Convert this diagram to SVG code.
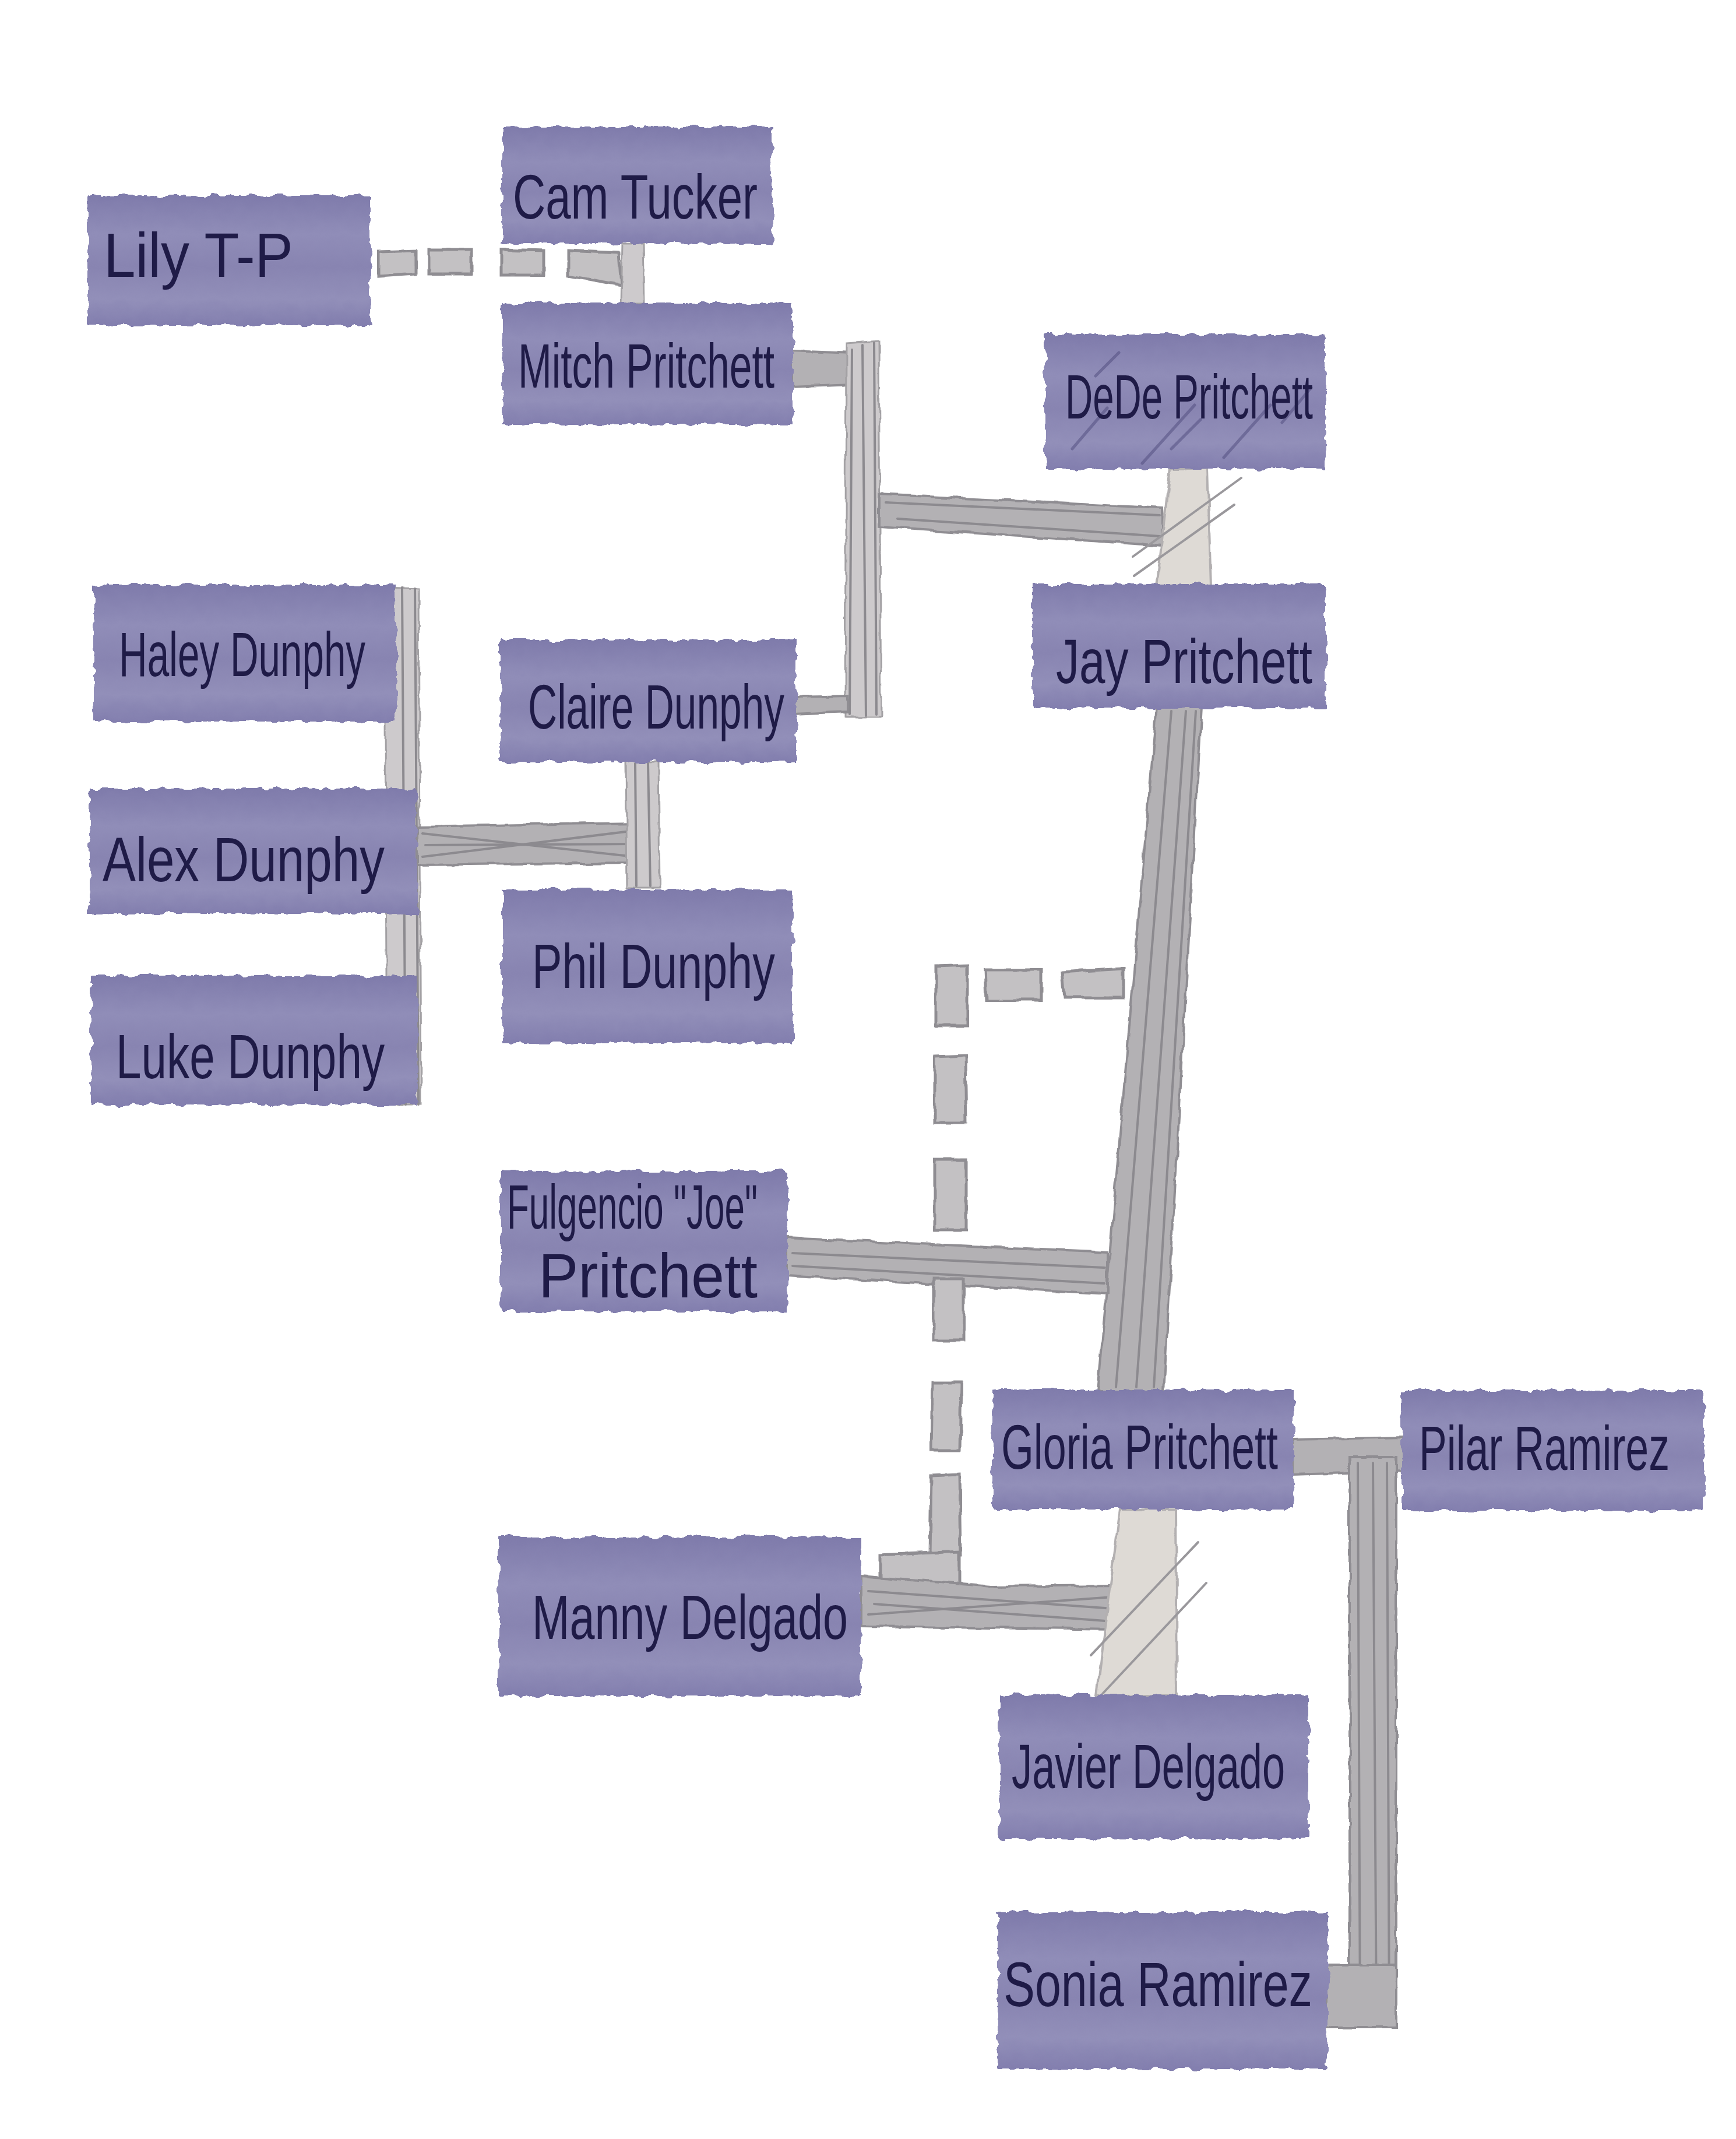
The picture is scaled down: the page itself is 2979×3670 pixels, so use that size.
<svg xmlns="http://www.w3.org/2000/svg" width="2979" height="3670" viewBox="0 0 2979 3670">
<defs>
<filter id="wc" x="-5%" y="-5%" width="110%" height="110%">
<feTurbulence type="fractalNoise" baseFrequency="0.045" numOctaves="3" seed="4" result="n"/>
<feDisplacementMap in="SourceGraphic" in2="n" scale="14" xChannelSelector="R" yChannelSelector="G"/>
</filter>
<filter id="pen" x="-5%" y="-5%" width="110%" height="110%">
<feTurbulence type="fractalNoise" baseFrequency="0.03" numOctaves="2" seed="9" result="n"/>
<feDisplacementMap in="SourceGraphic" in2="n" scale="8" xChannelSelector="R" yChannelSelector="G"/>
</filter>
<linearGradient id="boxfill" x1="0" y1="0" x2="0" y2="1">
<stop offset="0" stop-color="#7f7bab"/>
<stop offset="0.3" stop-color="#908db8"/>
<stop offset="0.55" stop-color="#8884b1"/>
<stop offset="0.8" stop-color="#928fb9"/>
<stop offset="1" stop-color="#827eae"/>
</linearGradient>
</defs>
<style>
.box{fill:url(#boxfill);filter:url(#wc);}
.lbl{font-family:"Liberation Sans Narrow","Liberation Sans",sans-serif;font-size:108px;fill:#1f1b47;}
.band{fill:#b3b1b4;stroke:#8f8d92;stroke-width:4;filter:url(#pen);}
.pale{fill:#dedad5;stroke:#b3b0b1;stroke-width:4;filter:url(#pen);}
.light{fill:#cdcacc;stroke:#a3a1a4;stroke-width:3;filter:url(#pen);}
.dash{fill:#c3c1c3;stroke:#8f8d92;stroke-width:5;filter:url(#pen);}
.streak{fill:none;stroke:#8c8a8f;stroke-width:4;stroke-linecap:round;}
.hatch{fill:none;stroke:#9a989c;stroke-width:4;stroke-linecap:round;}
.dhatch{fill:none;stroke:#4e4a7c;stroke-width:5;stroke-opacity:0.5;stroke-linecap:round;}
</style>
<rect width="2979" height="3670" fill="#ffffff"/>

<g id="connectors">
<polygon class="dash" points="651,432 713,430 713,470 651,474"/>
<polygon class="dash" points="736,428 809,428 809,470 736,470"/>
<polygon class="dash" points="860,428 933,430 933,472 860,472"/>
<polygon class="dash" points="975,430 1062,434 1066,490 975,474"/>
<polygon class="light" points="1068,416 1104,416 1106,522 1066,522"/>
<polygon class="band" points="1358,602 1462,606 1462,660 1358,664"/>
<polygon class="light" points="1452,590 1508,586 1512,1230 1450,1230"/>
<path class="streak" d="M1462,600 L1458,1225 M1480,592 L1486,1228 M1500,588 L1504,1226"/>
<polygon class="band" points="1364,1196 1454,1194 1454,1222 1364,1226"/>
<polygon class="band" points="1508,848 1995,872 1995,936 1508,904"/>
<path class="streak" d="M1520,862 L1990,884 M1540,890 L1990,920"/>
<polygon class="pale" points="2008,803 2072,803 2078,1006 1985,1006"/>
<path class="hatch" d="M2130,820 L1944,955 M2118,866 L1946,988"/>
<polygon class="band" points="1985,1212 2062,1212 1997,2388 1884,2388"/>
<path class="streak" d="M2010,1220 L1915,2380 M2035,1220 L1950,2380 M2052,1220 L1980,2380"/>
<polygon class="band" points="1350,2124 1900,2148 1900,2220 1350,2188"/>
<path class="streak" d="M1360,2150 L1895,2175 M1360,2172 L1895,2202"/>
<polygon class="dash" points="1822,1668 1928,1662 1928,1712 1826,1712"/>
<polygon class="dash" points="1690,1664 1787,1664 1787,1716 1692,1716"/>
<polygon class="dash" points="1606,1658 1660,1656 1660,1760 1606,1760"/>
<polygon class="dash" points="1604,1814 1656,1812 1658,1926 1604,1926"/>
<polygon class="dash" points="1604,1990 1658,1990 1658,2110 1604,2110"/>
<polygon class="dash" points="1602,2194 1654,2194 1654,2300 1602,2300"/>
<polygon class="dash" points="1600,2372 1650,2372 1648,2488 1598,2488"/>
<polygon class="dash" points="1598,2532 1646,2530 1648,2668 1596,2668"/>
<polygon class="dash" points="1510,2668 1646,2662 1646,2718 1510,2722"/>
<polygon class="band" points="1478,2704 1700,2722 1915,2720 1915,2796 1478,2790"/>
<path class="streak" d="M1490,2730 L1910,2760 M1490,2770 L1910,2740 M1500,2752 L1910,2782"/>
<polygon class="pale" points="1922,2590 2018,2590 2020,2910 1882,2910"/>
<path class="hatch" d="M2056,2646 L1872,2840 M2070,2716 L1892,2906"/>
<polygon class="band" points="2218,2470 2408,2466 2408,2524 2218,2530"/>
<polygon class="band" points="2316,2500 2396,2500 2396,3478 2316,3478"/>
<path class="streak" d="M2330,2510 L2334,3470 M2356,2510 L2362,3470 M2380,2510 L2384,3470"/>
<polygon class="band" points="2276,3372 2396,3372 2396,3478 2276,3478"/>
<polygon class="light" points="660,1008 718,1010 722,1895 664,1895"/>
<path class="streak" d="M690,1008 L696,1895 M712,1010 L718,1895"/>
<polygon class="band" points="716,1418 1092,1412 1092,1480 716,1484"/>
<path class="streak" d="M725,1430 L1090,1470 M725,1470 L1090,1425 M730,1450 L1088,1448"/>
<polygon class="light" points="1074,1306 1130,1306 1132,1524 1076,1524"/>
<path class="streak" d="M1090,1310 L1092,1520 M1112,1310 L1116,1520"/>
</g>

<g id="n-cam"><rect class="box" x="862" y="218" width="463" height="200"/><text class="lbl" x="880" y="375" textLength="420" lengthAdjust="spacingAndGlyphs">Cam Tucker</text></g>
<g id="n-lily"><rect class="box" x="150" y="335" width="486" height="223"/><text class="lbl" x="178" y="475" textLength="325" lengthAdjust="spacingAndGlyphs">Lily T-P</text></g>
<g id="n-mitch"><rect class="box" x="862" y="520" width="498" height="208"/><text class="lbl" x="889" y="665" textLength="440" lengthAdjust="spacingAndGlyphs">Mitch Pritchett</text></g>
<g id="n-dede"><rect class="box" x="1793" y="574" width="481" height="231"/><path class="dhatch" d="M1840,770 L1900,700 M1960,795 L2050,695 M2100,785 L2180,695 M2200,725 L2250,665 M1880,645 L1920,605 M2010,770 L2060,720"/><text class="lbl" x="1828" y="718" textLength="425" lengthAdjust="spacingAndGlyphs">DeDe Pritchett</text></g>
<g id="n-jay"><rect class="box" x="1772" y="1002" width="504" height="213"/><text class="lbl" x="1812" y="1172" textLength="440" lengthAdjust="spacingAndGlyphs">Jay Pritchett</text></g>
<g id="n-haley"><rect class="box" x="160" y="1003" width="520" height="235"/><text class="lbl" x="204" y="1160" font-size="92" textLength="423" lengthAdjust="spacingAndGlyphs">Haley Dunphy</text></g>
<g id="n-claire"><rect class="box" x="859" y="1098" width="507" height="210"/><text class="lbl" x="906" y="1250" textLength="440" lengthAdjust="spacingAndGlyphs">Claire Dunphy</text></g>
<g id="n-alex"><rect class="box" x="154" y="1353" width="561" height="215"/><text class="lbl" x="176" y="1512" textLength="484" lengthAdjust="spacingAndGlyphs">Alex Dunphy</text></g>
<g id="n-phil"><rect class="box" x="862" y="1526" width="498" height="264"/><text class="lbl" x="913" y="1695" textLength="417" lengthAdjust="spacingAndGlyphs">Phil Dunphy</text></g>
<g id="n-luke"><rect class="box" x="156" y="1674" width="560" height="221"/><text class="lbl" x="199" y="1850" textLength="461" lengthAdjust="spacingAndGlyphs">Luke Dunphy</text></g>
<g id="n-joe"><rect class="box" x="858" y="2009" width="494" height="241"/><text class="lbl" x="870" y="2108" font-size="88" textLength="430" lengthAdjust="spacingAndGlyphs">Fulgencio "Joe"</text><text class="lbl" x="924" y="2226" textLength="376" lengthAdjust="spacingAndGlyphs">Pritchett</text></g>
<g id="n-gloria"><rect class="box" x="1703" y="2385" width="517" height="205"/><text class="lbl" x="1718" y="2520" textLength="475" lengthAdjust="spacingAndGlyphs">Gloria Pritchett</text></g>
<g id="n-pilar"><rect class="box" x="2405" y="2385" width="520" height="207"/><text class="lbl" x="2435" y="2522" font-size="90" textLength="430" lengthAdjust="spacingAndGlyphs">Pilar Ramirez</text></g>
<g id="n-manny"><rect class="box" x="856" y="2637" width="622" height="273"/><text class="lbl" x="913" y="2812" textLength="542" lengthAdjust="spacingAndGlyphs">Manny Delgado</text></g>
<g id="n-javier"><rect class="box" x="1714" y="2908" width="531" height="247"/><text class="lbl" x="1736" y="3068" textLength="469" lengthAdjust="spacingAndGlyphs">Javier Delgado</text></g>
<g id="n-sonia"><rect class="box" x="1712" y="3280" width="566" height="270"/><text class="lbl" x="1722" y="3442" textLength="530" lengthAdjust="spacingAndGlyphs">Sonia Ramirez</text></g>
</svg>
